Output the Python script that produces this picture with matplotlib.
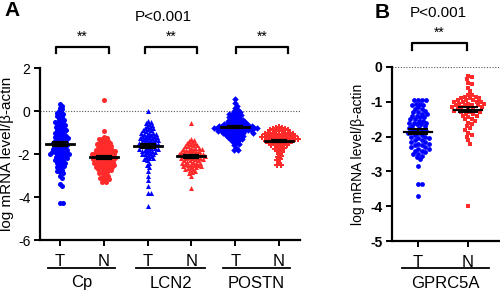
import numpy as np
import matplotlib
matplotlib.use("Agg")
import matplotlib.pyplot as plt
from matplotlib.lines import Line2D

plt.rcParams['font.family'] = ['Liberation Sans', 'DejaVu Sans']

# ---------------- data ----------------
groups_A = ["Cp", "LCN2", "POSTN"]
groups_B = ["GPRC5A"]
conds = ["T", "N"]

cp_T = [0.32, 0.22, 0.15, 0.08, 0.02, -0.05, -0.1, -0.15, -0.2, -0.25, -0.3, -0.35, -0.4,
        -0.45, -0.5, -0.5, -0.55, -0.6, -0.62, -0.7, -0.72, -0.75, -0.8, -0.85, -0.9, -0.9,
        -0.95, -1.0, -1.0, -1.05, -1.1, -1.1, -1.15, -1.2, -1.2, -1.25, -1.3, -1.3, -1.35,
        -1.4, -1.4, -1.45, -1.5, -1.5, -1.55, -1.6, -1.6, -1.65, -1.7, -1.7, -1.75, -1.8,
        -1.8, -1.85, -1.9, -1.9, -1.95, -2.0, -2.0, -2.05, -2.1, -2.15, -2.2, -2.2, -2.3,
        -2.35, -2.4, -2.45, -2.5, -2.55, -2.6, -2.7, -2.75, -2.8, -2.9, -3.0, -3.1, -3.4,
        -3.5, -4.3, -4.3, -1.55, -1.75, -1.95, -2.25, -2.6, -1.2, -1.45, -0.65, -2.85,
        -2.3, -2.1, -1.9, -2.4, -2.0]
cp_N = [0.5, -0.95, -1.2, -1.25, -1.3, -1.3, -1.35, -1.4, -1.45, -1.5, -1.5, -1.55, -1.6,
        -1.6, -1.65, -1.7, -1.7, -1.75, -1.8, -1.8, -1.85, -1.9, -1.9, -1.95, -2.0, -2.0,
        -2.0, -2.05, -2.1, -2.1, -2.15, -2.2, -2.2, -2.2, -2.25, -2.3, -2.3, -2.35, -2.4,
        -2.4, -2.45, -2.5, -2.5, -2.55, -2.6, -2.6, -2.65, -2.7, -2.7, -2.75, -2.8, -2.85,
        -2.9, -2.95, -3.0, -3.05, -3.1, -3.15, -3.2, -3.3, -3.3, -1.75, -1.85, -1.95,
        -2.05, -2.15, -2.25, -2.35, -2.45, -2.55, -1.65, -1.9, -2.1, -2.3, -2.5, -2.0,
        -2.2, -2.4, -1.8, -2.6, -2.7, -2.9, -3.1, -1.5]
lcn2_T = [0.0, -0.45, -0.5, -0.55, -0.6, -0.7, -0.75, -0.8, -0.85, -0.9, -0.95, -1.0, -1.0,
          -1.05, -1.1, -1.1, -1.15, -1.2, -1.2, -1.25, -1.3, -1.3, -1.35, -1.4, -1.4, -1.45,
          -1.5, -1.5, -1.55, -1.6, -1.6, -1.65, -1.7, -1.7, -1.75, -1.8, -1.8, -1.85, -1.9,
          -1.9, -1.95, -2.0, -2.0, -2.05, -2.1, -2.15, -2.2, -2.25, -2.3, -2.4, -2.5, -2.6,
          -2.8, -3.0, -3.2, -3.5, -3.8, -3.8, -4.4, -0.65, -0.9, -1.05, -1.25, -1.35, -1.45,
          -1.55, -1.65, -1.75, -1.85, -1.15, -0.8, -1.0, -1.3, -1.5, -1.7, -2.0, -2.2, -1.2]
lcn2_N = [-0.55, -1.3, -1.35, -1.4, -1.45, -1.5, -1.55, -1.6, -1.65, -1.7, -1.7, -1.75,
          -1.8, -1.8, -1.85, -1.9, -1.9, -1.95, -2.0, -2.0, -2.05, -2.1, -2.1, -2.15, -2.2,
          -2.2, -2.25, -2.3, -2.3, -2.35, -2.4, -2.4, -2.45, -2.5, -2.5, -2.55, -2.6, -2.65,
          -2.7, -2.75, -2.8, -2.9, -3.0, -3.6, -1.5, -1.7, -1.9, -2.1, -2.3, -2.5, -2.7,
          -1.6, -1.8, -2.0, -2.2, -2.4, -2.6, -1.75, -1.95, -2.15, -2.35, -2.45, -2.0,
          -2.2, -1.85, -2.05, -2.25, -2.55, -2.85, -1.65]
postn_T = [0.55, 0.35, 0.25, 0.12, 0.05, 0.0, -0.05, -0.1, -0.12, -0.15, -0.2, -0.2, -0.25,
           -0.3, -0.3, -0.35, -0.4, -0.4, -0.45, -0.5, -0.5, -0.5, -0.55, -0.6, -0.6, -0.6,
           -0.65, -0.65, -0.7, -0.7, -0.7, -0.75, -0.75, -0.75, -0.8, -0.8, -0.8, -0.85,
           -0.85, -0.85, -0.9, -0.9, -0.9, -0.95, -0.95, -0.95, -1.0, -1.0, -1.0, -1.05,
           -1.05, -1.1, -1.1, -1.15, -1.15, -1.2, -1.2, -1.25, -1.3, -1.3, -1.35, -1.4,
           -1.45, -1.5, -1.55, -1.6, -1.7, -1.8, -1.8, -0.55, -0.65, -0.7, -0.8, -0.9,
           -1.0, -0.75, -0.85, -0.95, -0.6, -0.45, -0.35, -1.1, -1.25, -0.8, -0.9, -0.7]
postn_N = [-0.75, -0.8, -0.8, -0.85, -0.9, -0.9, -0.95, -1.0, -1.0, -1.0, -1.05, -1.05,
           -1.1, -1.1, -1.1, -1.15, -1.15, -1.2, -1.2, -1.2, -1.25, -1.25, -1.3, -1.3, -1.3,
           -1.35, -1.35, -1.4, -1.4, -1.4, -1.45, -1.45, -1.5, -1.5, -1.55, -1.55, -1.6,
           -1.6, -1.65, -1.7, -1.75, -1.8, -1.85, -1.9, -2.0, -2.1, -2.15, -2.25, -2.3, -2.4,
           -2.5, -2.5, -0.85, -0.95, -1.05, -1.15, -1.25, -1.35, -1.45, -1.0, -1.2, -1.3,
           -1.1, -1.4, -1.5, -1.6, -1.7, -1.2, -0.9, -1.3]
gprc5a_T = [-0.95, -0.95, -0.95, -0.95, -1.05, -1.05, -1.1, -1.15, -1.2, -1.2, -1.25, -1.3,
            -1.35, -1.35, -1.4, -1.45, -1.5, -1.5, -1.55, -1.6, -1.6, -1.65, -1.7, -1.7,
            -1.75, -1.8, -1.8, -1.85, -1.9, -1.95, -2.0, -2.0, -2.05, -2.1, -2.15, -2.2,
            -2.2, -2.25, -2.3, -2.3, -2.35, -2.4, -2.45, -2.5, -2.55, -2.6, -2.65, -2.85,
            -3.35, -3.35, -3.7, -1.4, -1.55, -1.65, -1.75, -1.85, -1.95, -2.05, -2.15,
            -2.25, -2.35, -2.5, -1.3, -1.45, -1.6, -1.9, -2.1, -2.4, -1.1]
gprc5a_N = [-0.25, -0.3, -0.35, -0.45, -0.5, -0.6, -0.7, -0.8, -0.8, -0.85, -0.9, -0.9,
            -0.95, -0.95, -1.0, -1.0, -1.0, -1.05, -1.05, -1.1, -1.1, -1.1, -1.15, -1.15,
            -1.2, -1.2, -1.25, -1.25, -1.3, -1.3, -1.35, -1.35, -1.4, -1.4, -1.45, -1.5,
            -1.55, -1.6, -1.65, -1.7, -1.8, -1.9, -2.0, -2.1, -2.2, -4.0, -0.85, -0.95,
            -1.05, -1.15, -1.25, -1.0, -1.1, -1.2, -0.9, -1.3, -1.5, -1.75, -1.95]

series_A = [cp_T, cp_N, lcn2_T, lcn2_N, postn_T, postn_N]
markers_A = ["o", "o", "^", "^", "D", "P"]
series_B = [gprc5a_T, gprc5a_N]
markers_B = ["o", "s"]
p_text = "P<0.001"
sig_text = "**"

BLUE = "#0000ff"
RED = "#ff2b2b"

W, H = 500, 291
fig = plt.figure(figsize=(W / 100, H / 100), dpi=100)


def fx(x):
    return x / W


def fy(y):
    return 1 - y / H


def swarm(vals, d, ypx, xpx):
    ys = np.asarray(vals, float) * ypx
    order = np.argsort(-ys)
    placed_x, placed_y = [], []
    offs = np.zeros(len(ys))
    cands = [0.0]
    for k in range(1, 200):
        cands += [k * 0.5, -k * 0.5]
    for i in order:
        y = ys[i]
        px = np.array(placed_x)
        py = np.array(placed_y)
        for c in cands:
            if len(px) == 0 or np.all((px - c) ** 2 + (py - y) ** 2 >= d * d):
                offs[i] = c
                break
        placed_x.append(offs[i])
        placed_y.append(y)
    return offs / xpx


# ---------------- panel A ----------------
axA = fig.add_axes([fx(40), fy(240), fx(300) - fx(40), fy(68) - fy(240)])
xposA = np.arange(1, 7)
axA.set_xlim(1 - 20 / 43.8, 6 + 21 / 43.8)
axA.set_ylim(-6, 2)
ypxA = (240 - 68) / 8.0
xpxA = 43.8
for i, (vals, m) in enumerate(zip(series_A, markers_A)):
    col = BLUE if i % 2 == 0 else RED
    off = swarm(vals, 2.9, ypxA, xpxA)
    ms = 13 if m != "P" else 18
    if m == "D":
        ms = 11
    axA.scatter(xposA[i] + off, vals, s=ms, marker=m, color=col, linewidths=0, zorder=2)
    mu = np.mean(vals)
    sem = np.std(vals, ddof=1) / np.sqrt(len(vals))
    axA.plot([xposA[i] - 0.32, xposA[i] + 0.32], [mu, mu], color="black", lw=2, zorder=3)
    axA.errorbar(xposA[i], mu, yerr=sem, color="black", capsize=6, capthick=1.6, lw=1.6, zorder=3)
axA.axhline(0, color="#555555", lw=0.8, ls=(0, (1, 1.5)), zorder=1)
axA.set_yticks([-6, -4, -2, 0, 2])
axA.set_yticklabels(["-6", "-4", "-2", "0", "2"], fontsize=10)
axA.set_xticks(xposA)
axA.set_xticklabels(conds * 3, fontsize=12)
for s in ["top", "right"]:
    axA.spines[s].set_visible(False)
for s in ["left", "bottom"]:
    axA.spines[s].set_linewidth(1.6)
axA.tick_params(width=1.4, length=4, pad=3)
axA.tick_params(axis="x", pad=6)
axA.set_ylabel("log mRNA level/β-actin", fontsize=11)
axA.yaxis.set_label_coords(-0.1, 0.5)

# ---------------- panel B ----------------
axB = fig.add_axes([fx(392), fy(241), fx(500) - fx(392), fy(67) - fy(241)])
xposB = np.arange(1, 3)
axB.set_xlim(1 - 26 / 50, 2 + 32 / 50)
axB.set_ylim(-5, 0)
ypxB = (241 - 67) / 5.0
xpxB = 50
for i, (vals, m) in enumerate(zip(series_B, markers_B)):
    col = BLUE if i == 0 else RED
    off = swarm(vals, 3.7, ypxB, xpxB)
    axB.scatter(xposB[i] + off, vals, s=12, marker=m, color=col, linewidths=0, zorder=2)
    mu = np.mean(vals)
    sem = np.std(vals, ddof=1) / np.sqrt(len(vals))
    axB.plot([xposB[i] - 0.28, xposB[i] + 0.28], [mu, mu], color="black", lw=1.6, zorder=3)
    axB.errorbar(xposB[i], mu, yerr=sem, color="black", capsize=7, capthick=1.4, lw=1.4, zorder=3)
axB.axhline(0, color="#555555", lw=0.8, ls=(0, (1, 1.5)), zorder=1)
axB.set_yticks([-5, -4, -3, -2, -1, 0])
axB.set_yticklabels(["-5", "-4", "-3", "-2", "-1", "0"], fontsize=10, fontweight="bold")
axB.set_xticks(xposB)
axB.set_xticklabels(conds, fontsize=12)
for s in ["top", "right"]:
    axB.spines[s].set_visible(False)
for s in ["left", "bottom"]:
    axB.spines[s].set_linewidth(1.6)
axB.tick_params(width=1.4, length=4, pad=3)
axB.tick_params(axis="x", pad=6)
axB.set_ylabel("log mRNA level/β-actin", fontsize=10)
axB.yaxis.set_label_coords(-0.25, 0.5)

# ---------------- annotations ----------------
def fline(xs, ys, lw=1.4):
    fig.add_artist(Line2D([fx(x) for x in xs], [fy(y) for y in ys], color="black", lw=lw))


# group underlines & names
for (x0, x1, name) in [(48, 115, groups_A[0]), (136, 205, groups_A[1]), (223, 290, groups_A[2]),
                       (402, 489, groups_B[0])]:
    fline([x0, x1], [268, 268], lw=1.3)
    fig.text(fx((x0 + x1) / 2), fy(283), name, ha="center", va="center", fontsize=12)

# brackets
for (x0, x1) in [(56, 109), (145, 197), (236, 288)]:
    fline([x0, x0, x1, x1], [53, 47, 47, 53], lw=1.6)
    fig.text(fx((x0 + x1) / 2), fy(37), sig_text, ha="center", va="center", fontsize=10)
fline([412, 412, 467, 467], [50, 43, 43, 50], lw=1.6)
fig.text(fx(439.5), fy(33), sig_text, ha="center", va="center", fontsize=10)

fig.text(fx(163), fy(17), p_text, ha="center", va="center", fontsize=11)
fig.text(fx(438), fy(13), p_text, ha="center", va="center", fontsize=11)

fig.text(fx(4), fy(11), "A", ha="left", va="center", fontsize=15, fontweight="bold")
fig.text(fx(375), fy(12), "B", ha="left", va="center", fontsize=15, fontweight="bold")

fig.savefig("out.png", dpi=100)
